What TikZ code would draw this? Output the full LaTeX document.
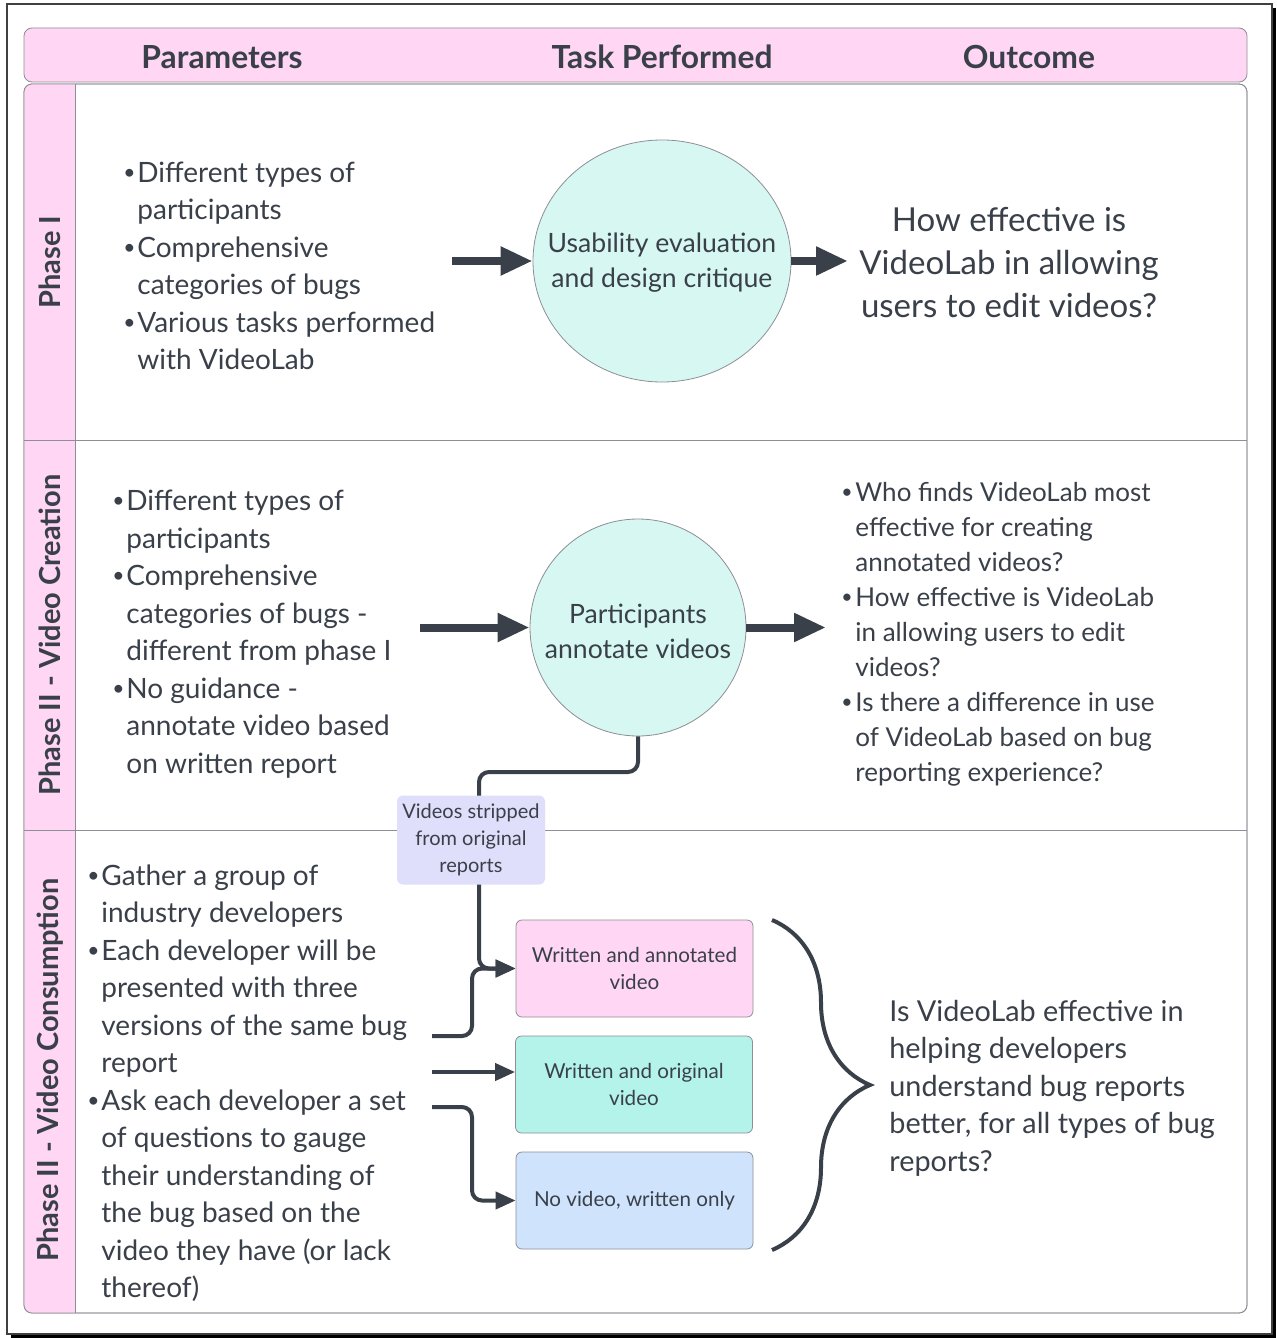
\documentclass[tikz,border=0pt]{standalone}
\usepackage{fontspec}
\setmainfont{Lato}
\usetikzlibrary{arrows.meta,decorations.pathreplacing,shapes.geometric}
\definecolor{ink}{HTML}{3A4049}
\definecolor{rowpink}{HTML}{FFD6F3}
\definecolor{circmint}{HTML}{D7F8F2}
\definecolor{boxmint}{HTML}{B4F3EA}
\definecolor{boxblue}{HTML}{CFE3FD}
\definecolor{lavender}{HTML}{DFDFFB}
\definecolor{frame}{HTML}{8E8E96}
\newcommand{\bl}{\makebox[8pt][l]{\hspace{1pt}\raisebox{0.2ex}{\scalebox{0.75}{\textbullet}}}}
\newcommand{\ind}{\hspace*{8pt}}
\begin{document}
\begin{tikzpicture}[x=0.5pt, y=-0.5pt,
        txt/.style={text=ink, inner sep=0pt, align=left, font=\fontsize{14}{18.75}\selectfont},
        head/.style={text=ink, inner sep=0pt, font=\fontsize{15.9}{18}\selectfont\bfseries},
        phase/.style={text=ink, inner sep=0pt, rotate=90, font=\fontsize{14.5}{18}\selectfont\bfseries},
        task/.style={ellipse, draw=frame, fill=circmint, inner sep=0pt},
        tasktext/.style={text=ink, align=center, inner sep=0pt, font=\fontsize{13.3}{17.5}\selectfont},
        variant/.style={draw=frame, rounded corners=3pt, minimum width=118.5pt, minimum height=48.5pt, text=ink, align=center, inner sep=0pt, font=\fontsize{10.3}{13.5}\selectfont},
        strip/.style={fill=lavender, rounded corners=3pt, minimum width=74pt, minimum height=44.5pt, text=ink, align=center, inner sep=0pt, font=\fontsize{10}{13.5}\selectfont},
        bigflow/.style={-{Triangle[length=16pt,width=13.5pt]}, line width=4pt, draw=ink},
        link/.style={-{Triangle[length=10pt,width=8.5pt]}, line width=2pt, draw=ink, rounded corners=5pt}]
        \useasboundingbox (0,0) rectangle (1276,1338);
        \fill[black] (11,8) rectangle (1276,1338);
        \fill[white] (7,4) rectangle (1272,1334);
        \draw[black!75, line width=0.6pt] (7,4) rectangle (1272,1334);

        \draw[frame, fill=rowpink, rounded corners=4pt] (24,28) rectangle (1247,82);
        \draw[frame, fill=white, rounded corners=4pt] (24,84) rectangle (1247,1313);
        \fill[rowpink] (75,84) [rounded corners=4pt] -- (24,84) -- (24,1313) [sharp corners] -- (75,1313) -- cycle;
        \draw[frame, rounded corners=4pt] (24,84) rectangle (1247,1313);
        \draw[frame] (75,84) -- (75,1313);
        \draw[frame] (24,440) -- (1247,440);
        \draw[frame] (24,830) -- (1247,830);

        \node[head] (hpar) at (222,57) {Parameters};
        \node[head] (htask) at (662,57) {Task Performed};
        \node[head] (hout) at (1029,57) {Outcome};

        \node[phase] (ph1) at (50,262) {Phase I};
        \node[phase] (ph2) at (50,635) {Phase II - Video Creation};
        \node[phase] (ph3) at (50,1070) {Phase II - Video Consumption};

        % phase I
        \node[txt, anchor=west] (par1) at (121,266) {\bl Different types of\\ \ind participants\\ \bl Comprehensive\\ \ind categories of bugs\\ \bl Various tasks performed\\ \ind with VideoLab};
        \node[task, minimum width=129pt, minimum height=121pt] (usab) at (662,261) {};
        \node[tasktext] (usabtxt) at (662,263) {Usability evaluation\\ and design critique};
        \node[txt, align=center, font=\fontsize{16.5}{21.5}\selectfont] (out1) at (1009,263) {How effective is\\ VideoLab in allowing\\ users to edit videos?};
        \coordinate (in1) at (452,261);
        \coordinate (to1) at (848,261);
        \draw[bigflow] (in1) -- (usab);
        \draw[bigflow] (usab) -- (to1);

        % phase II - creation
        \node[txt, anchor=west] (par2) at (110,634) {\bl Different types of\\ \ind participants\\ \bl Comprehensive\\ \ind categories of bugs -\\ \ind different from phase I\\ \bl No guidance -\\ \ind annotate video based\\ \ind on written report};
        \node[task, minimum width=108pt, minimum height=108.5pt] (annot) at (638,627.5) {};
        \node[tasktext] (annottxt) at (638,631) {Participants\\ annotate videos};
        \node[txt, anchor=west, font=\fontsize{13}{17.5}\selectfont] (out2) at (839,634) {\bl Who finds VideoLab most\\ \ind effective for creating\\ \ind annotated videos?\\ \bl How effective is VideoLab\\ \ind in allowing users to edit\\ \ind videos?\\ \bl Is there a difference in use\\ \ind of VideoLab based on bug\\ \ind reporting experience?};
        \coordinate (in2) at (420,627.5);
        \coordinate (to2) at (826,627.5);
        \draw[bigflow] (in2) -- (annot);
        \draw[bigflow] (annot) -- (to2);

        % phase II - consumption
        \node[txt, anchor=west] (par3) at (85,1083) {\bl Gather a group of\\ \ind industry developers\\ \bl Each developer will be\\ \ind presented with three\\ \ind versions of the same bug\\ \ind report\\ \bl Ask each developer a set\\ \ind of questions to gauge\\ \ind their understanding of\\ \ind the bug based on the\\ \ind video they have (or lack\\ \ind thereof)};
        \node[variant, fill=rowpink] (wav) at (634.5,968.5) {Written and annotated\\ video};
        \node[variant, fill=boxmint] (wov) at (634,1084.5) {Written and original\\ video};
        \node[variant, fill=boxblue] (nov) at (634.5,1200.5) {No video, written only};

        \coordinate (turn) at (479,772);
        \draw[link] (annot.south) |- (turn) |- (wav.west);
        \node[strip] (strp) at (471,840) {Videos stripped\\ from original\\ reports};

        \coordinate (r3a) at (432,1036);
        \coordinate (j1) at (472,968.5);
        \coordinate (r3b) at (432,1072);
        \coordinate (r3c) at (432,1107);
        \coordinate (j3) at (472,1200.5);
        \draw[link] (r3a) -| (j1) -- (wav.west);
        \draw[link] (r3b) -- (r3b -| wov.west);
        \draw[link] (r3c) -| (j3) -- (nov.west);

        \coordinate (bt) at (772,920);
        \coordinate (bb) at (772,1250);
        \draw[ink, line width=2pt, decorate, decoration={brace, amplitude=49pt}] (bt) -- (bb);
        \node[txt, anchor=west, font=\fontsize{14.4}{18.75}\selectfont] (out3) at (889,1088) {Is VideoLab effective in\\ helping developers\\ understand bug reports\\ better, for all types of bug\\ reports?};
    \end{tikzpicture}
\end{document}
